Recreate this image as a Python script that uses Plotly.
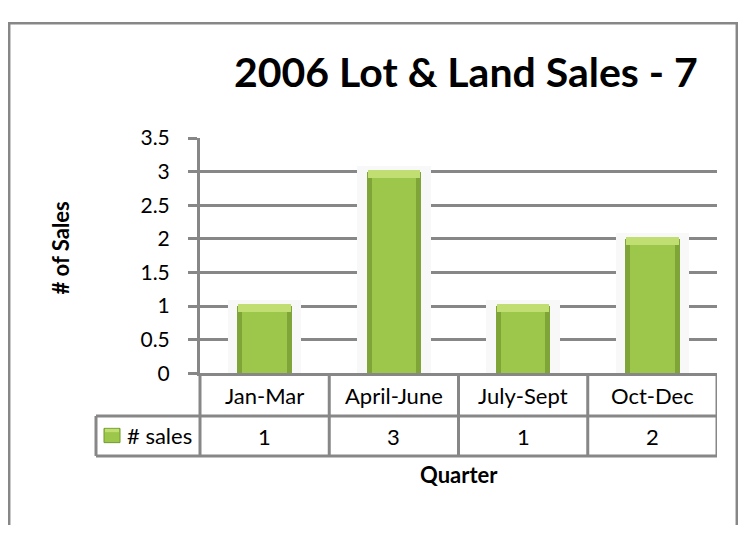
import plotly.graph_objects as go

# ---- data ----
quarters = ["Jan-Mar", "April-June", "July-Sept", "Oct-Dec"]
sales = [1, 3, 1, 2]
y_ticks = [0, 0.5, 1, 1.5, 2, 2.5, 3, 3.5]
y_tick_labels = ["0", "0.5", "1", "1.5", "2", "2.5", "3", "3.5"]
series_name = "# sales"
title_text = "2006 Lot & Land Sales - 7"
x_title = "Quarter"
y_title = "# of Sales"

# the page body has an 8px margin; size the figure so the page fits the 746x533 window
OFF = 8
W, H = 746 - 2 * OFF, 533 - 2 * OFF
FONT = "Lato, 'Open Sans', sans-serif"
GRAY = "#878787"


def px(x):
    return (x - OFF) / W


def py(y):
    return 1 - (y - OFF) / H


# layout positions in window pixels
PL, PR, PT, PB = 200, 717, 130, 377
ROW1, ROW2 = 422, 464
TABLE_L = 96

n = len(quarters)
bevel = 0.09
halo = [v + 0.085 for v in sales]
inner = [v - bevel for v in sales]
top_base = [v - bevel for v in sales]
top_h = [bevel + 0.03] * n

fig = go.Figure()
fig.add_trace(go.Bar(x=quarters, y=halo, width=0.57, marker=dict(color="#f8f8f8", line=dict(width=0)),
                     hoverinfo="skip", showlegend=False))
fig.add_trace(go.Bar(x=quarters, y=sales, width=0.42, marker=dict(color="#7fa538", line=dict(width=0)),
                     name=series_name, showlegend=False))
fig.add_trace(go.Bar(x=quarters, y=top_h, base=top_base, width=0.405,
                     marker=dict(color="#c0de72", line=dict(width=0)), hoverinfo="skip", showlegend=False))
fig.add_trace(go.Bar(x=quarters, y=inner, width=0.345, marker=dict(color="#9cc74a", line=dict(width=0)),
                     hoverinfo="skip", showlegend=False))

shapes = []
line = dict(color=GRAY, width=3)
# outer chart border (bottom edge falls below the visible window)
shapes.append(dict(type="rect", xref="paper", yref="paper", x0=px(9.2), x1=px(736.8), y0=-0.05, y1=py(9.2),
                   line=dict(color=GRAY, width=2.5), fillcolor="rgba(0,0,0,0)", layer="below"))
# y axis continues through the data table
shapes.append(dict(type="line", xref="paper", yref="paper", x0=px(PL), x1=px(PL), y0=py(PB), y1=py(ROW2), line=line))
# table horizontal rules
for yy in (ROW1, ROW2):
    shapes.append(dict(type="line", xref="paper", yref="paper", x0=px(TABLE_L), x1=px(PR), y0=py(yy), y1=py(yy), line=line))
# left edge of legend cell
shapes.append(dict(type="line", xref="paper", yref="paper", x0=px(TABLE_L), x1=px(TABLE_L), y0=py(ROW1), y1=py(ROW2), line=line))
# column separators (category boundaries)
for i in range(n):
    xb = i + 0.5
    shapes.append(dict(type="line", xref="x", yref="paper", x0=xb, x1=xb, y0=py(PB), y1=py(ROW2), line=line))
# legend key
shapes.append(dict(type="rect", xref="paper", yref="paper", x0=px(104), x1=px(120), y0=py(435), y1=py(450),
                   line=dict(color="#6f9a2c", width=1), fillcolor="#9cc74a"))
shapes.append(dict(type="rect", xref="paper", yref="paper", x0=px(105), x1=px(119), y0=py(435.5), y1=py(439),
                   line=dict(width=0), fillcolor="#c0de72"))

annotations = []
annotations.append(dict(text="<b>" + title_text + "</b>", xref="paper", yref="paper", x=px(466), y=py(60),
                        showarrow=False, font=dict(family=FONT, size=41, color="black"),
                        xanchor="center", yanchor="middle"))
annotations.append(dict(text="<b>" + y_title + "</b>", xref="paper", yref="paper", x=px(60), y=py(246),
                        showarrow=False, textangle=-90, font=dict(family=FONT, size=22, color="black"),
                        xanchor="center", yanchor="middle"))
annotations.append(dict(text="<b>" + x_title + "</b>", xref="paper", yref="paper", x=px(459), y=py(484),
                        showarrow=False, font=dict(family=FONT, size=22, color="black"),
                        xanchor="center", yanchor="middle"))
for q, v in zip(quarters, sales):
    annotations.append(dict(text=q, xref="x", yref="paper", x=q, y=py(400), showarrow=False,
                            font=dict(family=FONT, size=22, color="black"), xanchor="center", yanchor="middle"))
    annotations.append(dict(text=str(v), xref="x", yref="paper", x=q, y=py(444), showarrow=False,
                            font=dict(family=FONT, size=22, color="black"), xanchor="center", yanchor="middle"))
annotations.append(dict(text=series_name, xref="paper", yref="paper", x=px(125), y=py(443), showarrow=False,
                        font=dict(family=FONT, size=22, color="black"), xanchor="left", yanchor="middle"))

fig.update_layout(
    width=W, height=H,
    margin=dict(l=0, r=0, t=0, b=0),
    paper_bgcolor="white", plot_bgcolor="white",
    barmode="overlay", bargap=0,
    showlegend=False,
    shapes=shapes, annotations=annotations,
    xaxis=dict(domain=[px(PL), px(PR)], range=[-0.5, n - 0.5], showticklabels=False, showgrid=False,
               showline=True, linecolor=GRAY, linewidth=3, ticks="", zeroline=False, fixedrange=True),
    yaxis=dict(domain=[py(PB), py(PT)], range=[0, 3.5], tickvals=y_ticks, ticktext=y_tick_labels,
               showgrid=True, gridcolor=GRAY, gridwidth=3, zeroline=False,
               showline=True, linecolor=GRAY, linewidth=3,
               ticks="outside", ticklen=9, tickwidth=3, tickcolor=GRAY, ticklabelstandoff=14,
               tickfont=dict(family=FONT, size=21, color="black"), fixedrange=True),
)

fig.write_html("out.html")
